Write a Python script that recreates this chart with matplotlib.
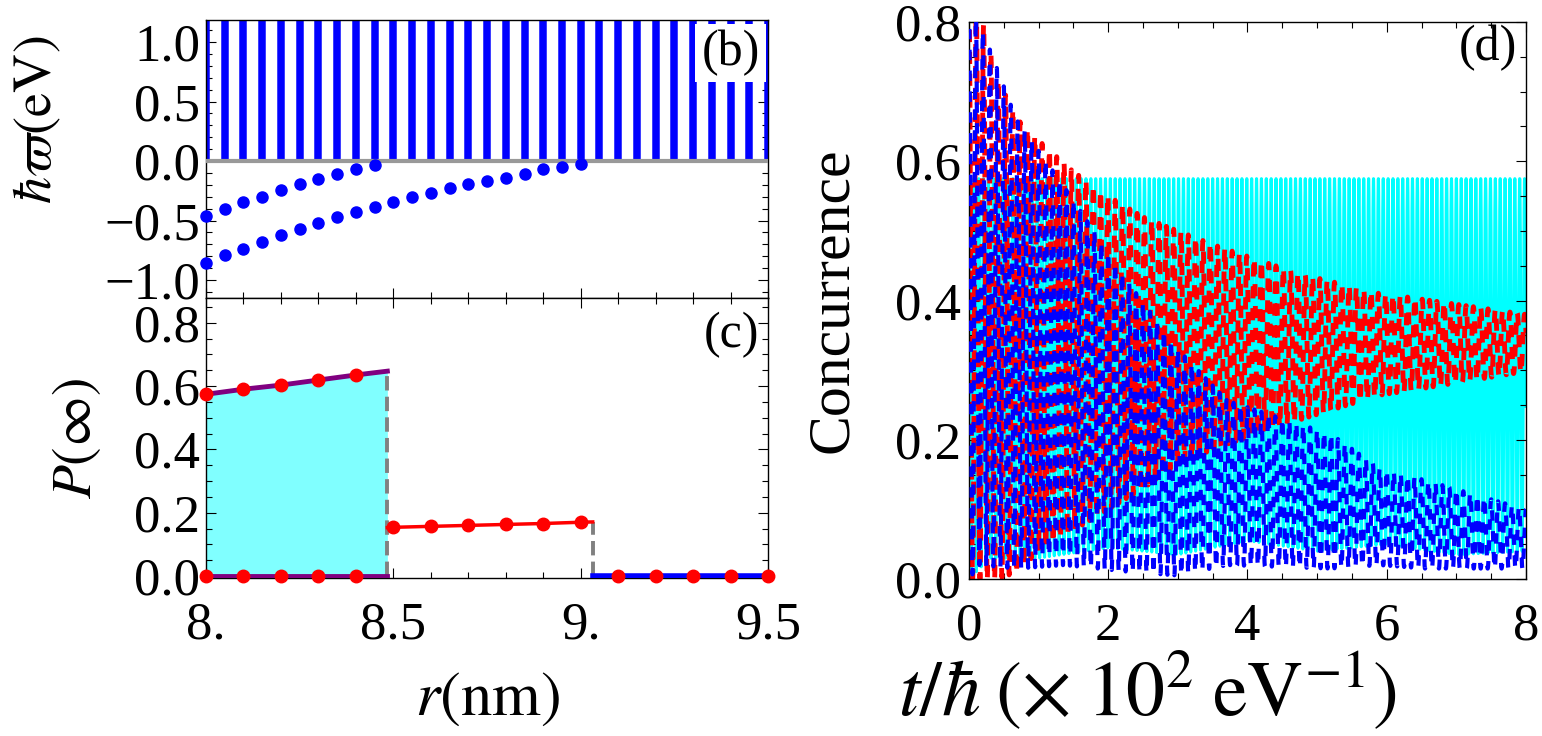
import numpy as np
import matplotlib
matplotlib.use("Agg")
import matplotlib.pyplot as plt
from matplotlib.ticker import MultipleLocator, FixedLocator, FixedFormatter

plt.rcParams['font.family'] = ['Liberation Serif', 'DejaVu Serif']
plt.rcParams['mathtext.fontset'] = 'stix'
plt.rcParams['font.size'] = 38
plt.rcParams['axes.linewidth'] = 1.0

# ---- panel (b): spectrum vs r ----
r_bars = [8.0, 8.05, 8.1, 8.15, 8.2, 8.25, 8.3, 8.35, 8.4, 8.45, 8.5, 8.55, 8.6, 8.65, 8.7, 8.75,
          8.8, 8.85, 8.9, 8.95, 9.0, 9.05, 9.1, 9.15, 9.2, 9.25, 9.3, 9.35, 9.4, 9.45, 9.5]
bar_top = [1.5] * len(r_bars)   # continuum, runs off the top of the frame

r_bound1 = [8.0, 8.05, 8.1, 8.15, 8.2, 8.25, 8.3, 8.35, 8.4, 8.45]
w_bound1 = [-0.462, -0.403, -0.345, -0.300, -0.246, -0.196, -0.151, -0.107, -0.070, -0.031]

r_bound2 = [8.0, 8.05, 8.1, 8.15, 8.2, 8.25, 8.3, 8.35, 8.4, 8.45, 8.5, 8.55, 8.6, 8.65, 8.7,
            8.75, 8.8, 8.85, 8.9, 8.95, 9.0]
w_bound2 = [-0.860, -0.790, -0.739, -0.681, -0.624, -0.574, -0.524, -0.473, -0.429, -0.387, -0.345,
            -0.305, -0.266, -0.229, -0.196, -0.168, -0.143, -0.109, -0.070, -0.048, -0.025]

# ---- panel (c): P(inf) vs r ----
r_jump1 = 8.484
r_jump2 = 9.032
r_left_line = [8.0, 8.1, 8.2, 8.3, 8.4, r_jump1]
p_left_line = [0.574, 0.590, 0.603, 0.619, 0.635, 0.647]
r_left_pts = [8.0, 8.1, 8.2, 8.3, 8.4]
p_left_pts = [0.574, 0.590, 0.603, 0.619, 0.635]
r_mid_line = [r_jump1, 8.5, 8.6, 8.7, 8.8, 8.9, 9.0, r_jump2]
p_mid_line = [0.153, 0.154, 0.157, 0.160, 0.163, 0.166, 0.170, 0.171]
r_mid_pts = [8.5, 8.6, 8.7, 8.8, 8.9, 9.0]
p_mid_pts = [0.154, 0.157, 0.160, 0.163, 0.166, 0.170]
r_right_pts = [9.1, 9.2, 9.3, 9.4, 9.5]
p_right_pts = [0.0, 0.0, 0.0, 0.0, 0.0]

# ---- panel (d): concurrence envelopes ----
t_red = [0.0, 0.1, 0.2, 0.4, 0.7, 1.0, 1.5, 2.0, 2.5, 3.0, 3.6, 4.7, 5.9, 6.3, 8.0]
red_up = [0.82, 0.82, 0.80, 0.72, 0.66, 0.63, 0.585, 0.55, 0.52, 0.50, 0.477, 0.44, 0.41, 0.405, 0.38]
red_lo = [0.0, 0.0, 0.0, 0.0, 0.01, 0.04, 0.07, 0.10, 0.13, 0.165, 0.19, 0.227, 0.264, 0.27, 0.298]
red_period = 0.105

t_blue = [0.0, 0.15, 0.68, 1.37, 2.33, 3.0, 3.71, 5.2, 5.9, 6.55, 8.0]
blue_up = [0.82, 0.80, 0.66, 0.563, 0.42, 0.33, 0.256, 0.208, 0.159, 0.142, 0.10]
blue_lo = [0.0, 0.02, 0.015, 0.02, 0.01, 0.005, 0.02, 0.015, 0.02, 0.015, 0.015]
blue_period = 0.1

t_cyan = [0.0, 0.3, 1.0, 2.0, 3.0, 4.0, 5.0, 6.0, 7.0, 8.0]
cyan_up = [0.575, 0.575, 0.575, 0.575, 0.575, 0.575, 0.575, 0.575, 0.575, 0.575]
cyan_lo = [0.0, 0.03, 0.03, 0.045, 0.035, 0.055, 0.04, 0.05, 0.035, 0.04]
cyan_period = 0.07


def oscillate(t, t_env, up, lo, period):
    u = np.interp(t, t_env, up)
    l = np.interp(t, t_env, lo)
    return l + (u - l) * 0.5 * (1 + np.cos(2 * np.pi * t / period))


def style_ticks(ax):
    ax.tick_params(which='both', direction='in', top=True, right=True, width=0.8)
    ax.tick_params(which='major', length=7)
    ax.tick_params(which='minor', length=4)


fig = plt.figure(figsize=(15.42, 7.36), dpi=100)
ax_b = fig.add_axes([0.1336, 0.5951, 0.3645, 0.3777])
ax_c = fig.add_axes([0.1336, 0.2147, 0.3645, 0.3804])
ax_d = fig.add_axes([0.6284, 0.2133, 0.3612, 0.7568])

# (b)
ax_b.vlines(r_bars, 0, bar_top, color='#0000ff', linewidth=5.4, zorder=2)
ax_b.axhline(0, color='#999999', linewidth=3, zorder=3)
ax_b.plot(r_bound1, w_bound1, 'o', color='#0000ff', markersize=8, zorder=4, clip_on=False)
ax_b.plot(r_bound2, w_bound2, 'o', color='#0000ff', markersize=8, zorder=4, clip_on=False)
ax_b.set_xlim(8.0, 9.5)
ax_b.set_ylim(-1.151, 1.185)
ax_b.xaxis.set_major_locator(MultipleLocator(0.5))
ax_b.xaxis.set_minor_locator(MultipleLocator(0.1))
ax_b.yaxis.set_major_locator(FixedLocator([-1.0, -0.5, 0.0, 0.5, 1.0]))
ax_b.yaxis.set_minor_locator(MultipleLocator(0.1))
ax_b.set_xticklabels([])
style_ticks(ax_b)
ax_b.tick_params(axis='y', pad=4)
ax_b.set_ylabel(r'$\hbar\varpi(\mathrm{eV})$', fontsize=39)
ax_b.yaxis.set_label_coords(-0.254, 0.64)
ax_b.text(0.985, 0.965, '(b)', transform=ax_b.transAxes, ha='right', va='top', fontsize=36,
          zorder=6, bbox=dict(boxstyle='square,pad=0.12', facecolor='white', edgecolor='none'))

# (c)
ax_c.fill_between(r_left_line, 0, p_left_line, color='#80ffff', zorder=1, linewidth=0)
ax_c.plot([r_jump1, r_jump1], [0, p_left_line[-1]], '--', color='#808080', linewidth=2.8, zorder=2)
ax_c.plot([r_jump2, r_jump2], [0, p_mid_line[-1]], '--', color='#808080', linewidth=2.8, zorder=2)
ax_c.plot(r_left_line, p_left_line, color='#800080', linewidth=3.5, zorder=3)
ax_c.plot([r_left_line[0], r_left_line[-1]], [0, 0], color='#800080', linewidth=3.5, zorder=3)
ax_c.plot(r_mid_line, p_mid_line, color='#ff0000', linewidth=2.5, zorder=3)
ax_c.plot([r_jump2, 9.5], [0, 0], color='#0000ff', linewidth=4, zorder=3)
ax_c.plot(r_left_pts, p_left_pts, 'o', color='#ff0000', markersize=9, zorder=4, clip_on=False)
ax_c.plot(r_left_pts, [0] * len(r_left_pts), 'o', color='#ff0000', markersize=9, zorder=4, clip_on=False)
ax_c.plot(r_mid_pts, p_mid_pts, 'o', color='#ff0000', markersize=9, zorder=4, clip_on=False)
ax_c.plot(r_right_pts, p_right_pts, 'o', color='#ff0000', markersize=9, zorder=4, clip_on=False)
ax_c.set_xlim(8.0, 9.5)
ax_c.set_ylim(-0.006, 0.878)
ax_c.xaxis.set_major_locator(FixedLocator([8.0, 8.5, 9.0, 9.5]))
ax_c.xaxis.set_major_formatter(FixedFormatter(['8.', '8.5', '9.', '9.5']))
ax_c.xaxis.set_minor_locator(MultipleLocator(0.1))
ax_c.yaxis.set_major_locator(FixedLocator([0.0, 0.2, 0.4, 0.6, 0.8]))
ax_c.yaxis.set_minor_locator(MultipleLocator(0.05))
style_ticks(ax_c)
ax_c.tick_params(axis='y', pad=4)
ax_c.tick_params(axis='x', pad=17)
ax_c.set_ylabel(r'$P(\infty)$', fontsize=40)
ax_c.yaxis.set_label_coords(-0.183, 0.5)
ax_c.set_xlabel(r'$r(\mathrm{nm})$', fontsize=45)
ax_c.xaxis.set_label_coords(0.5, -0.33)
ax_c.text(0.985, 0.95, '(c)', transform=ax_c.transAxes, ha='right', va='top', fontsize=36)

# (d)
t = np.linspace(0, 8, 60001)
ax_d.plot(t, oscillate(t, t_cyan, cyan_up, cyan_lo, cyan_period), color='#00ffff', linewidth=2.2, zorder=1)
ax_d.plot(t, oscillate(t, t_red, red_up, red_lo, red_period), color='#ff0000', linewidth=3.5,
          linestyle=(0, (2.5, 2.0)), zorder=2)
ax_d.plot(t, oscillate(t, t_blue, blue_up, blue_lo, blue_period), color='#0000ff', linewidth=3.0,
          linestyle=(0, (2.5, 2.5)), zorder=3)
ax_d.set_xlim(0, 8)
ax_d.set_ylim(0, 0.8)
ax_d.xaxis.set_major_locator(MultipleLocator(2))
ax_d.xaxis.set_minor_locator(MultipleLocator(0.5))
ax_d.yaxis.set_major_locator(MultipleLocator(0.2))
ax_d.yaxis.set_minor_locator(MultipleLocator(0.05))
style_ticks(ax_d)
ax_d.tick_params(axis='y', pad=6)
ax_d.tick_params(axis='x', pad=17)
ax_d.set_ylabel('Concurrence', fontsize=43)
ax_d.yaxis.set_label_coords(-0.196, 0.5)
ax_d.set_xlabel(r'$t/\hbar\;(\times\;10^2\;\mathrm{eV}^{-1})$', fontsize=56)
ax_d.xaxis.set_label_coords(0.32, -0.127)
ax_d.text(0.985, 0.995, '(d)', transform=ax_d.transAxes, ha='right', va='top', fontsize=36)

fig.savefig('out.png', dpi=100)
